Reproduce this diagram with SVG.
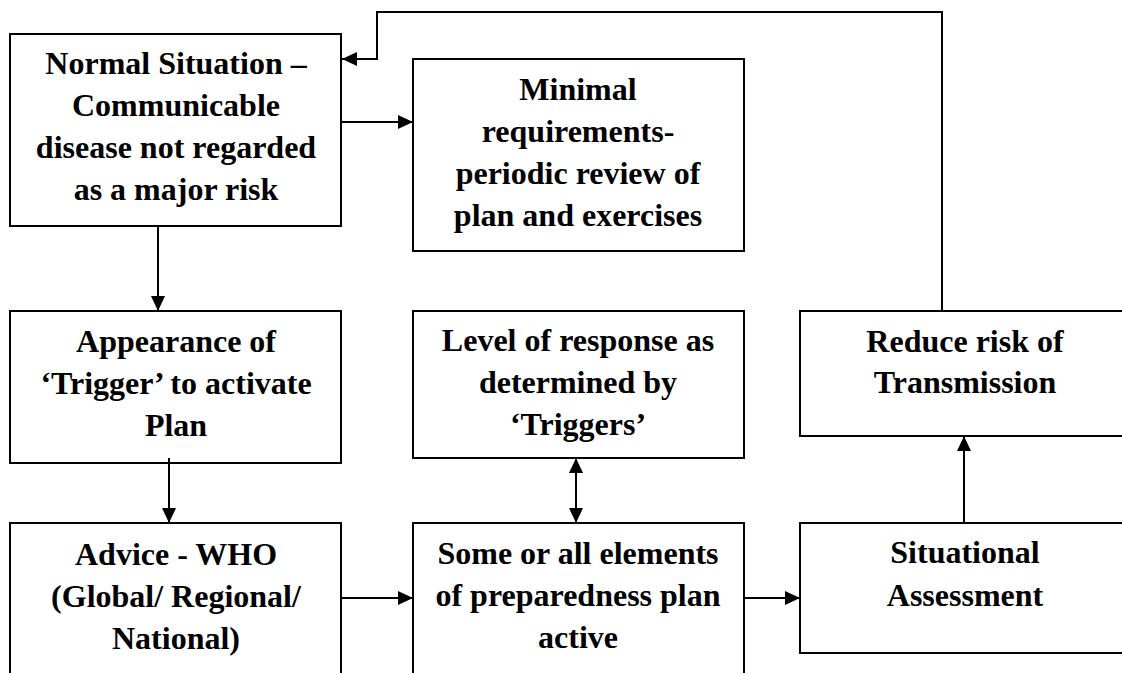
<svg xmlns="http://www.w3.org/2000/svg" width="1122" height="673" viewBox="0 0 1122 673">
<style>
.box{fill:#fff;stroke:#000;stroke-width:2}
.t{font-family:"Liberation Serif","Times New Roman",serif;font-weight:bold;font-size:32px;text-anchor:middle;fill:#000}
.c{fill:none;stroke:#000;stroke-width:2}
</style>
<defs>
<marker id="ah" markerUnits="userSpaceOnUse" markerWidth="16" markerHeight="15" refX="15" refY="7" orient="auto-start-reverse">
<path d="M0,0 L15,7 L0,14 z" fill="#000"/>
</marker>
</defs>
<rect width="1122" height="673" fill="#fff"/>
<g id="n-normal">
<rect class="box" x="10" y="34" width="331" height="192"/>
<text class="t" x="176" y="74">Normal Situation –</text>
<text class="t" x="176" y="116">Communicable</text>
<text class="t" x="176" y="158">disease not regarded</text>
<text class="t" x="176" y="200">as a major risk</text>
</g>
<g id="n-minimal">
<rect class="box" x="413" y="59" width="331" height="192"/>
<text class="t" x="578" y="100">Minimal</text>
<text class="t" x="578" y="142">requirements-</text>
<text class="t" x="578" y="184">periodic review of</text>
<text class="t" x="578" y="226">plan and exercises</text>
</g>
<g id="n-appearance">
<rect class="box" x="10" y="311" width="331" height="152"/>
<text class="t" x="176" y="352">Appearance of</text>
<text class="t" x="176" y="394">‘Trigger’ to activate</text>
<text class="t" x="176" y="436">Plan</text>
</g>
<g id="n-level">
<rect class="box" x="413" y="311" width="331" height="147"/>
<text class="t" x="578" y="351">Level of response as</text>
<text class="t" x="578" y="393">determined by</text>
<text class="t" x="578" y="435">‘Triggers’</text>
</g>
<g id="n-reduce">
<rect class="box" x="800" y="311" width="340" height="125"/>
<text class="t" x="965" y="352">Reduce risk of</text>
<text class="t" x="965" y="393">Transmission</text>
</g>
<g id="n-advice">
<rect class="box" x="10" y="523" width="331" height="200"/>
<text class="t" x="176" y="565">Advice - WHO</text>
<text class="t" x="176" y="607">(Global/ Regional/</text>
<text class="t" x="176" y="649">National)</text>
</g>
<g id="n-some">
<rect class="box" x="413" y="523" width="331" height="200"/>
<text class="t" x="578" y="564">Some or all elements</text>
<text class="t" x="578" y="606">of preparedness plan</text>
<text class="t" x="578" y="648">active</text>
</g>
<g id="n-situational">
<rect class="box" x="800" y="523" width="340" height="130"/>
<text class="t" x="965" y="563">Situational</text>
<text class="t" x="965" y="606">Assessment</text>
</g>
<g id="connectors">
<path class="c" d="M942,311 V12 H377 V59 H342" marker-end="url(#ah)"/>
<path class="c" d="M341,122 H413" marker-end="url(#ah)"/>
<path class="c" d="M158,226 V311" marker-end="url(#ah)"/>
<path class="c" d="M169,458 V523" marker-end="url(#ah)"/>
<path class="c" d="M341,598 H413" marker-end="url(#ah)"/>
<path class="c" d="M744,598 H800" marker-end="url(#ah)"/>
<path class="c" d="M964,523 V436" marker-end="url(#ah)"/>
<path class="c" d="M576,458 V523" marker-start="url(#ah)" marker-end="url(#ah)"/>
</g>
</svg>
